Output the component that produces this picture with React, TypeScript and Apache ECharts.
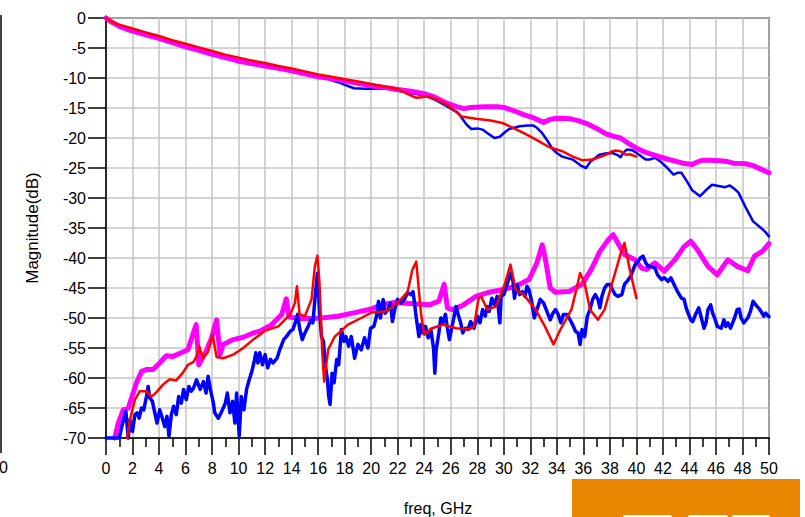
import React, { useEffect, useRef } from "react";
import * as echarts from "echarts";

const xTicks = [0, 50, 2];
const yTicks = [-70, 0, 5];

const upperMagenta = [[0,0],[0.3,-0.5],[0.6,-0.9],[1,-1.4],[1.5,-1.8],[2,-2.2],[3,-2.8],[4,-3.4],[5,-4.1],[6,-4.8],[7,-5.4],[8,-6.05],[9,-6.6],[10,-7.2],[11,-7.6],[12,-8.0],[13,-8.4],[14,-8.8],[15,-9.3],[16,-9.8],[17,-10.1],[18,-10.45],[19,-10.9],[20,-11.3],[21,-11.6],[22,-11.9],[23,-12.2],[24,-12.6],[24.8,-13.2],[25.7,-14.2],[26.5,-14.8],[27,-15.1],[27.5,-14.9],[28.5,-14.8],[29.5,-14.8],[30,-14.9],[30.8,-15.5],[31.5,-16.1],[32.3,-16.7],[33,-17.4],[33.5,-16.9],[34,-16.7],[35,-16.8],[35.6,-17.1],[36.25,-17.6],[37,-18.4],[37.7,-19.3],[38.25,-19.7],[38.8,-20.0],[39.4,-20.9],[40,-21.7],[40.7,-22.4],[41.3,-22.8],[42.3,-23.5],[43,-23.9],[43.5,-24.2],[44.2,-24.4],[44.6,-24.0],[45,-23.7],[45.6,-23.7],[46.3,-23.8],[46.8,-23.9],[47.3,-24.2],[48.3,-24.3],[48.8,-24.6],[49.3,-25.1],[50,-25.8]];

const upperBlue = [[0,0],[0.3,-0.5],[0.6,-0.95],[1,-1.45],[2,-2.3],[3,-2.9],[4,-3.5],[5,-4.2],[6,-4.9],[7,-5.5],[8,-6.1],[9,-6.7],[10,-7.25],[11,-7.65],[12,-8.05],[13,-8.45],[14,-8.85],[15,-9.3],[16,-9.8],[16.8,-10.2],[17.5,-10.7],[18.2,-11.3],[18.7,-11.7],[19.5,-11.8],[20.3,-11.8],[21.2,-11.7],[22.2,-12.2],[23,-12.5],[24,-12.9],[24.8,-13.6],[25.7,-14.7],[26.55,-15.8],[27.2,-17.8],[27.55,-18.5],[28,-18.4],[28.4,-18.6],[28.9,-19.4],[29.3,-20],[29.7,-19.8],[30.1,-19.0],[30.4,-18.5],[31.2,-18.05],[31.8,-17.9],[32.2,-17.9],[32.5,-18.3],[32.9,-19.2],[33.3,-20.5],[33.7,-21.9],[34,-22.5],[34.4,-23.1],[35.2,-23.6],[35.8,-24.6],[36.2,-25],[36.55,-23.9],[37.2,-22.8],[37.6,-22.6],[38.2,-22.5],[38.55,-22.8],[38.8,-23.2],[39.05,-22.4],[39.3,-21.9],[39.7,-22.05],[40.2,-22.8],[40.7,-23.6],[41,-23.6],[41.4,-23.3],[41.8,-23.9],[42.2,-24.7],[42.8,-26.1],[43.1,-25.8],[43.4,-25.8],[43.8,-27.2],[44.2,-28.7],[44.8,-29.7],[45.2,-28.8],[45.7,-27.8],[46.2,-28.0],[46.7,-28.2],[47.05,-27.9],[47.4,-28.5],[47.7,-29.1],[48.2,-31.4],[48.8,-33.9],[49.4,-35.0],[49.7,-35.6],[50,-36.4]];

const upperRed = [[0,0],[0.3,-0.45],[0.6,-0.8],[1,-1.1],[2,-1.75],[3,-2.4],[4,-3.0],[5,-3.7],[6,-4.3],[7,-4.9],[8,-5.5],[9,-6.1],[10,-6.6],[11,-7.1],[12,-7.5],[13,-8.0],[14,-8.4],[15,-8.9],[16,-9.4],[17,-9.8],[18,-10.2],[19,-10.6],[20,-11.0],[21,-11.4],[22,-11.8],[22.6,-12.5],[23.4,-13.3],[23.8,-13.2],[24.2,-13.05],[25,-13.6],[25.9,-14.7],[26.4,-15.6],[26.8,-16.4],[27.3,-16.6],[27.9,-16.8],[29,-17.1],[29.9,-17.5],[30.7,-18.3],[31.7,-19.4],[32.7,-20.6],[33.4,-21.5],[34.4,-22.2],[35.2,-23.1],[35.9,-23.7],[36.7,-23.6],[37.7,-22.8],[38.2,-22.2],[38.4,-22.1],[38.8,-22.2],[39.2,-22.8],[39.5,-22.7],[40,-23.1]];

const lowerMagenta = [[0.65,-70],[0.93,-67.5],[1.3,-65.3],[1.68,-65],[2.05,-62.5],[2.3,-60.8],[2.68,-58.9],[3.05,-58.6],[3.55,-58.6],[4.05,-57.5],[4.55,-56.3],[5.05,-56.4],[5.68,-55.8],[6.18,-55.3],[6.5,-53.1],[6.8,-51.1],[7.0,-57.8],[7.6,-55.3],[7.96,-53.3],[8.34,-50.3],[8.6,-56.1],[8.84,-54.4],[9.6,-53.6],[10.35,-53.2],[11.1,-52.5],[11.6,-52.2],[12.5,-51.1],[13.25,-49.4],[13.6,-46.8],[13.8,-49.8],[14.5,-50.1],[15.5,-50.1],[16.25,-50.0],[17.5,-49.7],[18.75,-49.1],[20,-48.5],[20.75,-47.8],[21.75,-47.4],[22.9,-47.6],[24.4,-47.8],[25.1,-47.2],[25.5,-44.4],[25.75,-48.3],[26.1,-48.6],[26.9,-47.9],[27.9,-46.4],[28.9,-45.7],[29.9,-45.3],[30.9,-44.7],[31.9,-43.6],[32.5,-40.8],[32.9,-37.8],[33.1,-39.7],[33.5,-45],[33.9,-45.7],[34.9,-45.6],[35.4,-45],[35.9,-44.4],[36.6,-41.9],[37.25,-38.9],[37.9,-36.9],[38.25,-36.1],[38.6,-37.5],[39.1,-39.4],[39.9,-40.3],[40.4,-41.7],[40.75,-41.9],[41.4,-40.8],[42.1,-42.2],[42.9,-40.3],[43.6,-38.1],[44.1,-37.2],[44.6,-38.6],[45.4,-41.4],[46.1,-42.8],[46.9,-40.3],[47.6,-41.4],[48.4,-42.1],[48.9,-39.7],[49.5,-38.9],[50,-37.6]];

const lowerRed = [[1.6,-70],[1.8,-67],[2.18,-63.6],[2.55,-62.2],[3.05,-62.2],[3.43,-63.1],[3.8,-62.4],[4.3,-61.1],[4.8,-60.2],[5.3,-60.4],[5.8,-59.1],[6.18,-57.8],[6.6,-57.3],[6.83,-56.4],[7.03,-54.7],[7.3,-56.7],[7.7,-55.6],[8.04,-52.8],[8.34,-56.5],[8.84,-56.7],[9.6,-56.1],[10.35,-55],[11.1,-53.6],[11.6,-52.8],[12,-52.1],[13,-51.4],[13.9,-49.4],[14.25,-47.5],[14.4,-44.7],[14.6,-49.4],[15,-49.7],[15.5,-46.9],[15.75,-41.4],[15.95,-39.6],[16.1,-44.2],[16.3,-55.3],[16.45,-60.6],[16.75,-55.3],[17.25,-53.1],[18.25,-51.1],[19.25,-50],[20,-49.1],[21,-48.9],[21.5,-48.3],[22.25,-46.9],[22.75,-45.6],[23.1,-42],[23.4,-40.6],[23.75,-49.2],[24,-52.8],[24.6,-51.7],[25.4,-51.1],[26.4,-51.7],[27.4,-51.9],[27.75,-51.4],[28.1,-46.7],[28.3,-46.4],[28.75,-48.6],[29.4,-48.1],[30.1,-44.2],[30.5,-41.1],[30.9,-45.3],[31.5,-46.1],[32.4,-48.6],[33.1,-51.4],[33.75,-54.4],[34.25,-52],[35.1,-48.6],[35.5,-45],[35.75,-42.5],[36.1,-44.2],[36.5,-48.6],[37.1,-50.3],[37.6,-48.6],[38.25,-43.6],[38.9,-38.6],[39.1,-37.5],[39.5,-41.9],[40,-46.7]];

const lowerBlue = [[0,-70],[1.0,-70],[1.2,-68],[1.5,-65.6],[1.68,-70],[1.8,-67],[2,-68.9],[2.18,-66.1],[2.35,-65.8],[2.5,-66.7],[2.68,-65],[2.85,-65.3],[3.05,-63.1],[3.18,-61.4],[3.3,-63.3],[3.5,-63.9],[3.68,-65.8],[3.85,-67.5],[4.05,-65.3],[4.25,-66.7],[4.43,-68.1],[4.6,-66.4],[4.75,-69.7],[4.93,-66.1],[5.1,-64.7],[5.3,-66.1],[5.48,-63.1],[5.68,-64.2],[5.85,-61.9],[6.05,-63.6],[6.25,-61.4],[6.43,-62.2],[6.6,-61.7],[6.83,-60.3],[7.1,-61.9],[7.35,-60.6],[7.55,-62.5],[7.7,-59.7],[7.9,-62.2],[8.1,-64.2],[8.2,-65.8],[8.47,-66.7],[8.72,-65.6],[9,-64.2],[9.15,-62.5],[9.35,-65.8],[9.55,-63.9],[9.72,-67.5],[9.85,-62.5],[10.05,-69.7],[10.2,-63.1],[10.4,-65.3],[10.6,-61.9],[10.8,-60.3],[11,-58.9],[11.15,-57.5],[11.3,-55.8],[11.45,-57.5],[11.6,-55.8],[11.8,-57.8],[12,-56.1],[12.2,-58.3],[12.4,-56.9],[12.6,-57.5],[12.9,-56.7],[13.1,-55.3],[13.4,-53.6],[13.6,-53.1],[13.9,-52.2],[14.1,-51.9],[14.3,-50.6],[14.45,-49.4],[14.6,-51.7],[14.8,-53.6],[15,-52.5],[15.25,-51.4],[15.45,-50.3],[15.6,-50.8],[15.8,-45.8],[15.95,-42.5],[16.1,-48.6],[16.25,-53.1],[16.4,-53.9],[16.55,-58],[16.7,-60.3],[16.8,-63.1],[16.9,-64.4],[17.05,-59.2],[17.2,-60.8],[17.4,-56.9],[17.55,-57.8],[17.75,-51.9],[17.95,-53.9],[18.1,-53.1],[18.3,-54.7],[18.5,-53.1],[18.75,-56.7],[19,-54.4],[19.25,-55.3],[19.5,-53.3],[19.75,-55],[19.95,-51.7],[20.2,-51.4],[20.4,-49.7],[20.55,-47.2],[20.7,-50],[20.9,-46.9],[21.05,-49.2],[21.25,-48.6],[21.45,-47.5],[21.6,-50.6],[21.8,-48.3],[22,-46.9],[22.25,-47.5],[22.5,-46.9],[22.75,-45.8],[23,-46.1],[23.15,-45.6],[23.25,-47.2],[23.4,-50],[23.6,-53.1],[23.75,-51.1],[23.9,-52.5],[24.1,-51.4],[24.3,-53.3],[24.5,-51.9],[24.7,-55],[24.8,-59.2],[24.9,-55.3],[25.1,-52.5],[25.25,-50],[25.4,-50.8],[25.6,-49.4],[25.75,-51.7],[25.9,-53.6],[26.1,-51.4],[26.4,-48.1],[26.6,-49.7],[26.75,-50.8],[26.9,-52.5],[27.1,-51.7],[27.3,-51.9],[27.5,-50.6],[27.75,-51.7],[28,-49.7],[28.2,-50.8],[28.4,-48.6],[28.6,-49.7],[28.75,-48.1],[28.9,-48.9],[29.1,-46.7],[29.3,-47.8],[29.5,-46.4],[29.7,-50.8],[29.8,-46.4],[30,-46.1],[30.2,-44.7],[30.4,-43.3],[30.5,-42.5],[30.7,-43.9],[30.8,-46.7],[31,-44.4],[31.2,-46.1],[31.4,-45.6],[31.6,-46.4],[31.75,-44.7],[31.9,-45.3],[32.1,-47.2],[32.3,-50],[32.5,-48.6],[32.75,-46.9],[33,-47.5],[33.25,-48.9],[33.5,-50.3],[33.7,-49.2],[33.9,-48.6],[34.1,-49.4],[34.3,-50.8],[34.5,-49.4],[34.75,-49.4],[35,-50.3],[35.25,-51.4],[35.4,-52.2],[35.6,-52.5],[35.75,-54.4],[35.9,-51.9],[36.1,-53.1],[36.3,-49.7],[36.5,-48.6],[36.7,-46.9],[36.9,-46.1],[37.1,-46.9],[37.25,-48.3],[37.4,-46.4],[37.6,-45],[37.8,-44.4],[38,-44.4],[38.2,-45.3],[38.4,-46.1],[38.6,-46.4],[38.9,-46.1],[39.1,-44.4],[39.4,-43.6],[39.6,-42.9],[39.9,-41.1],[40.1,-40.6],[40.3,-40],[40.5,-39.7],[40.7,-40.8],[40.9,-41.4],[41.1,-41.4],[41.4,-41.7],[41.6,-42.8],[41.9,-43.6],[42.1,-43.3],[42.4,-43.9],[42.6,-43.3],[42.9,-44.7],[43.1,-45.6],[43.4,-46.7],[43.6,-46.9],[43.75,-48.3],[43.9,-49.2],[44.1,-50.3],[44.25,-50.6],[44.5,-49.2],[44.7,-48.3],[44.9,-50],[45.1,-51.7],[45.25,-50.8],[45.4,-48.6],[45.6,-47.8],[45.75,-49.2],[45.9,-50],[46.1,-51.4],[46.4,-51.7],[46.6,-50.3],[46.75,-51.4],[46.9,-50.8],[47.1,-51.7],[47.4,-50],[47.6,-48.6],[47.75,-48.5],[47.9,-50],[48.1,-50.8],[48.4,-50],[48.6,-48.9],[48.8,-47.2],[49,-47.8],[49.2,-48.3],[49.4,-48.9],[49.6,-49.7],[49.75,-49.2],[50,-49.8]];

const FONT = "'Liberation Sans', Arial, sans-serif";

function line(data: number[][], color: string, width: number, z: number) {
  return {
    type: "line",
    data,
    showSymbol: false,
    symbol: "none",
    clip: false,
    z,
    lineStyle: { color, width, join: "round", cap: "round" },
  };
}

export default function App() {
  const ref = useRef<HTMLDivElement>(null);
  useEffect(() => {
    if (!ref.current) return;
    const chart = echarts.init(ref.current, null, { renderer: "svg" });
    chart.setOption({
      animation: false,
      backgroundColor: "#ffffff",
      grid: {
        left: 106, right: 36, top: 18, bottom: 79,
        show: true, borderColor: "#000", borderWidth: 1.5, backgroundColor: "transparent",
      },
      xAxis: {
        type: "value",
        min: xTicks[0], max: xTicks[1], interval: xTicks[2],
        axisLine: { show: true, onZero: false, lineStyle: { color: "#000", width: 1.5 } },
        axisTick: { show: true, length: 17, lineStyle: { color: "#000", width: 1.5 } },
        minorTick: { show: true, splitNumber: 2, length: 9, lineStyle: { color: "#000", width: 1.5 } },
        axisLabel: { fontSize: 16, color: "#000", margin: 22, fontFamily: FONT },
        splitLine: { show: true, lineStyle: { color: "#c4c4c4", width: 1.5 } },
      },
      yAxis: {
        type: "value",
        min: yTicks[0], max: yTicks[1], interval: yTicks[2],
        axisLine: { show: true, onZero: false, lineStyle: { color: "#000", width: 1.5 } },
        axisTick: { show: true, length: 18, lineStyle: { color: "#000", width: 1.5 } },
        axisLabel: { fontSize: 16, color: "#000", margin: 20, fontFamily: FONT },
        splitLine: { show: true, lineStyle: { color: "#c4c4c4", width: 1.5 } },
      },
      series: [
        line(upperBlue, "#0000ff", 2.5, 2),
        line(upperMagenta, "#ff00ff", 5, 3),
        line(upperRed, "#ff0000", 2.5, 4),
        line(lowerMagenta, "#ff00ff", 5, 3),
        line(lowerBlue, "#0000ff", 3.5, 4),
        line(lowerRed, "#ff0000", 2.5, 5),
      ],
      graphic: [
        { type: "line", shape: { x1: 1, y1: 15, x2: 1, y2: 453 }, style: { stroke: "#444", lineWidth: 2 } },
        { type: "text", x: -1, y: 467, style: { text: "0", fontSize: 16, fontFamily: FONT, fill: "#000", verticalAlign: "middle" } },
        { type: "text", x: 32, y: 228, rotation: Math.PI / 2, style: { text: "Magnitude(dB)", fontSize: 17, fontFamily: FONT, fill: "#000", align: "center", verticalAlign: "middle" } },
        { type: "text", x: 438, y: 508, style: { text: "freq, GHz", fontSize: 16, fontFamily: FONT, fill: "#000", align: "center", verticalAlign: "middle" } },
        { type: "rect", shape: { x: 572, y: 479, width: 228, height: 38 }, style: { fill: "#ea8600" } },
        { type: "rect", shape: { x: 623, y: 515, width: 49, height: 6, r: 2 }, style: { fill: "#ffffff" } },
        { type: "rect", shape: { x: 688, y: 515, width: 40, height: 6, r: 2 }, style: { fill: "#ffffff" } },
        { type: "rect", shape: { x: 732, y: 515, width: 38, height: 6, r: 2 }, style: { fill: "#ffffff" } },
      ],
    });
    return () => chart.dispose();
  }, []);
  return <div ref={ref} style={{ position: "fixed", left: 0, top: 0, width: 805, height: 517 }} />;
}
